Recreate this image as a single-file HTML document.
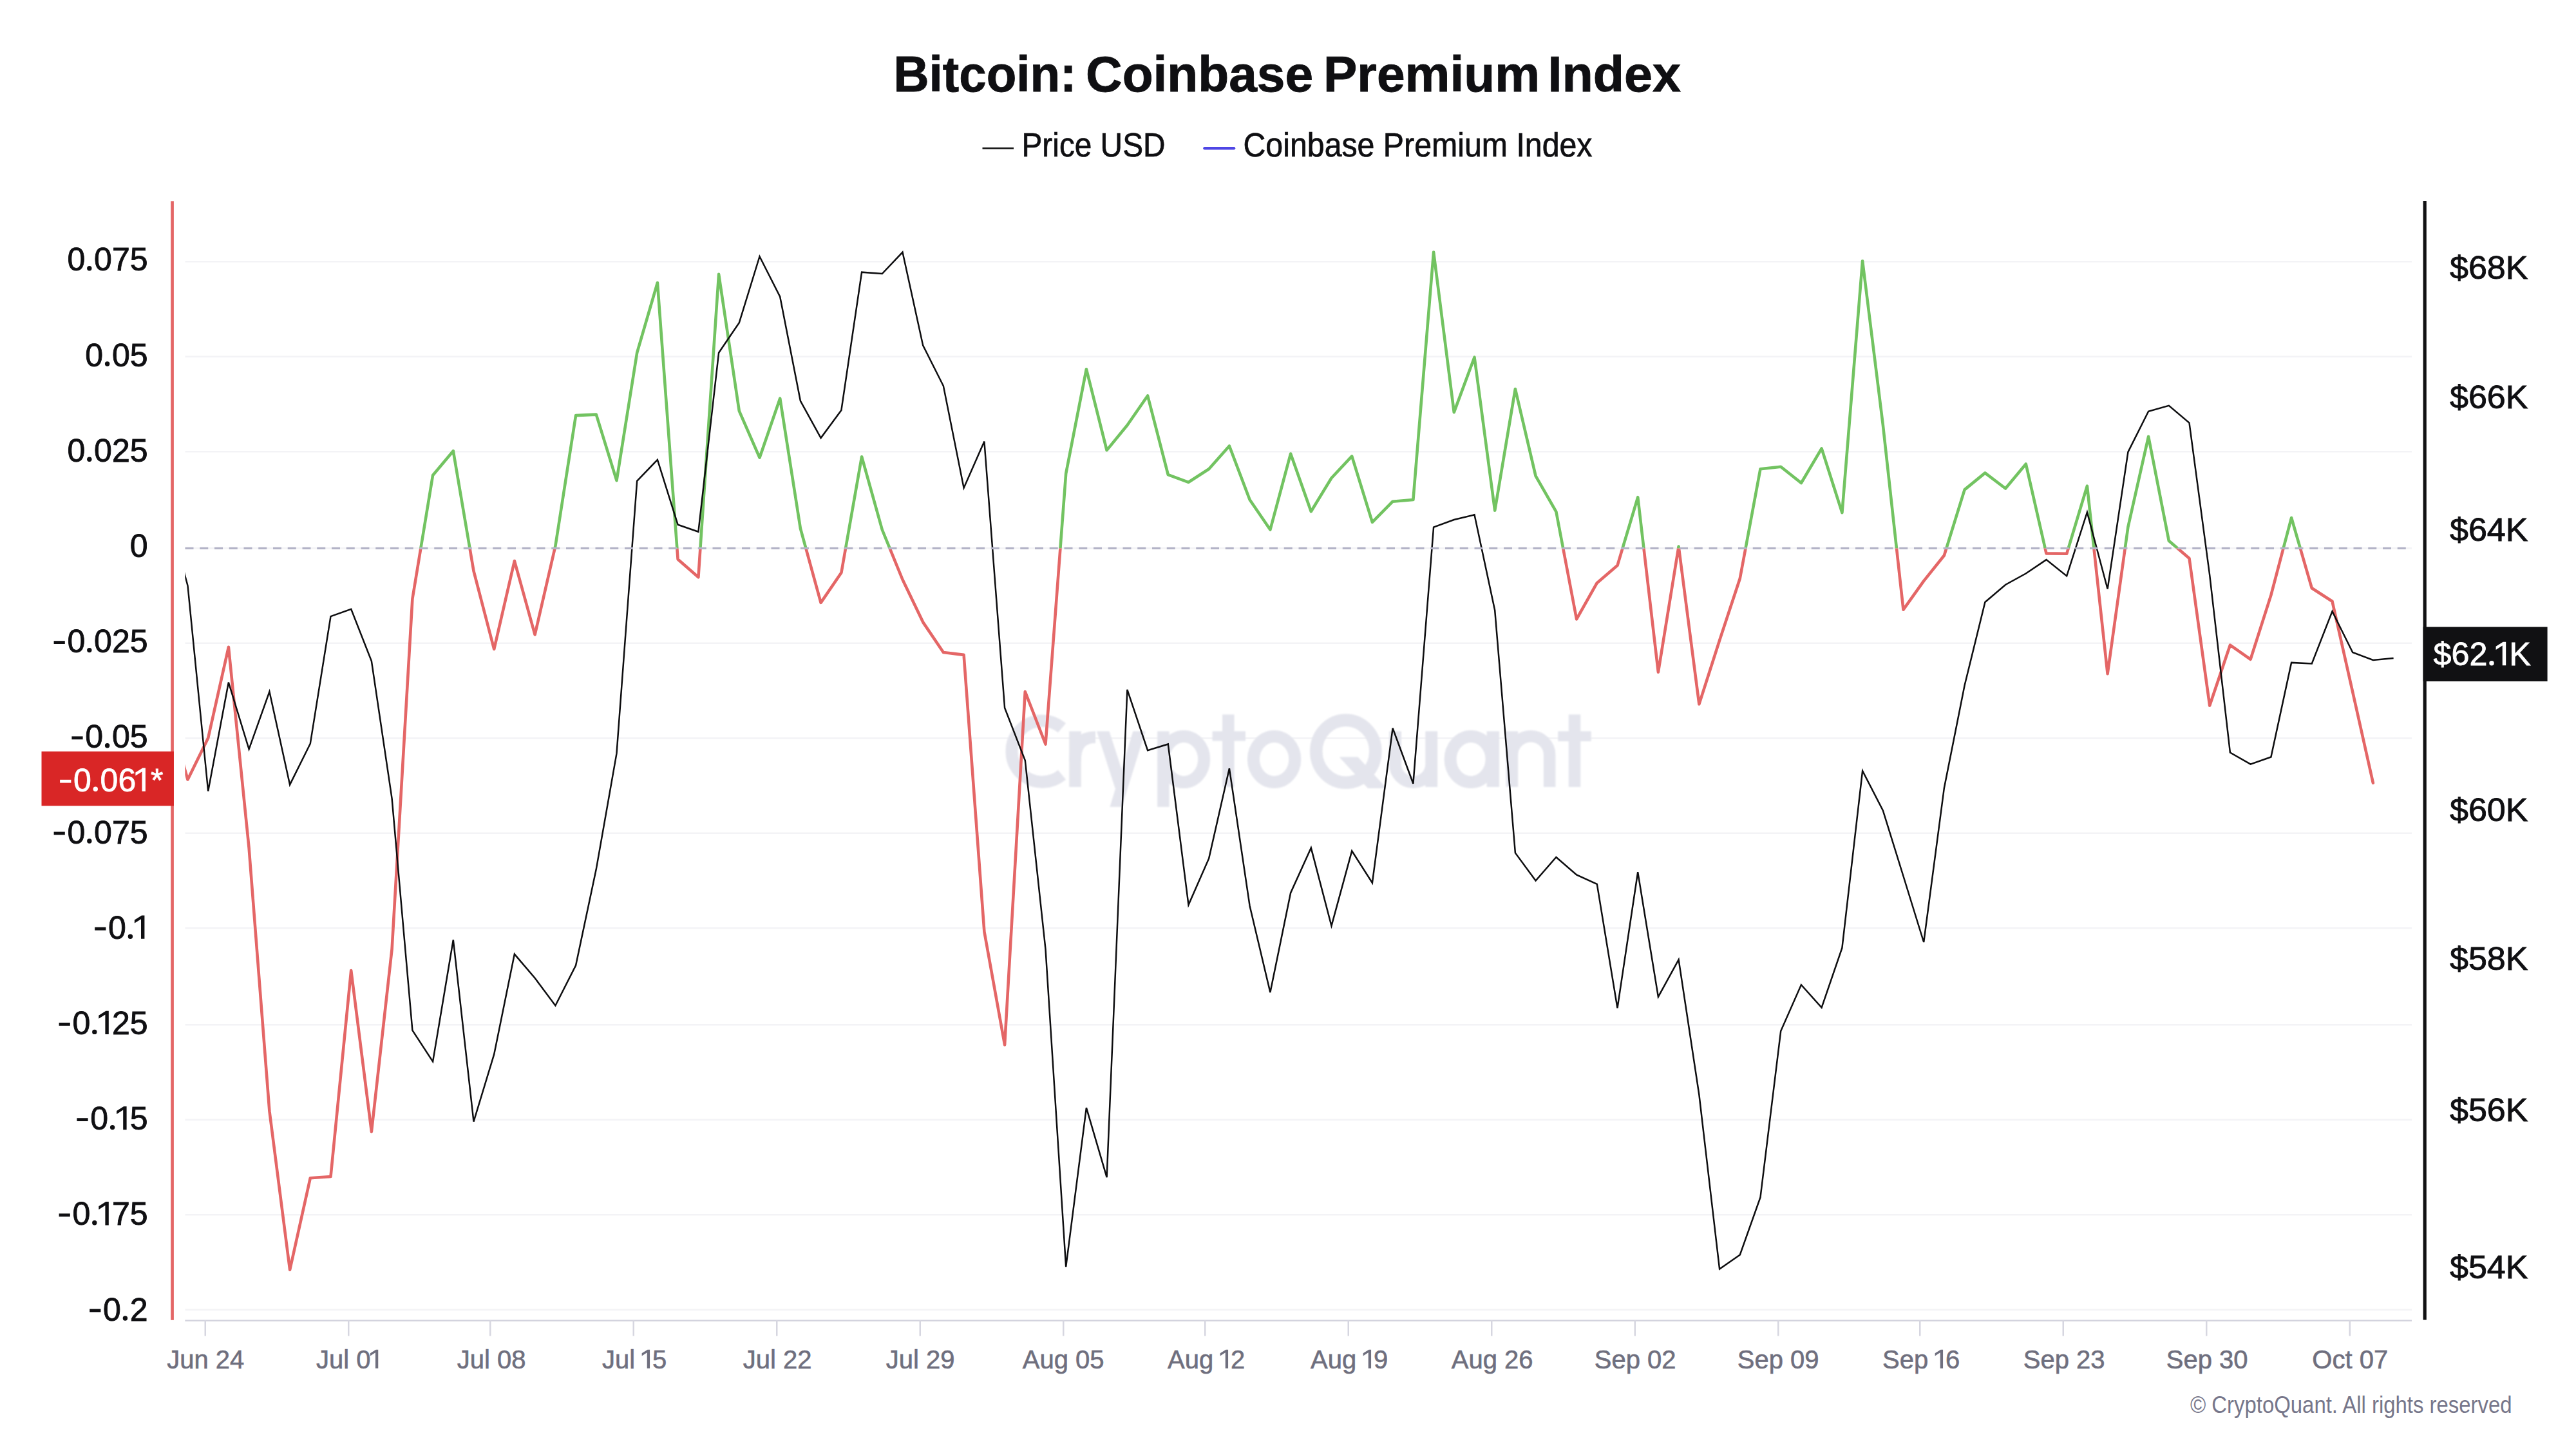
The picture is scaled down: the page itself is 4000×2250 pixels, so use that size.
<!DOCTYPE html>
<html><head><meta charset="utf-8"><title>Bitcoin: Coinbase Premium Index</title>
<style>
html,body{margin:0;padding:0;background:#fff;}
body{width:4000px;height:2250px;overflow:hidden;font-family:"Liberation Sans",sans-serif;}
svg{display:block;position:absolute;left:0;top:0;}
text{font-family:"Liberation Sans",sans-serif;}
</style></head><body>
<svg width="4000" height="2250" viewBox="0 0 4000 2250">
<defs>
<clipPath id="plot"><rect x="287.3" y="300" width="3470" height="1751"/></clipPath>
<clipPath id="up"><rect x="287.3" y="300" width="3470" height="551.4"/></clipPath>
<clipPath id="dn"><rect x="287.3" y="851.4" width="3470" height="1199.6"/></clipPath>
<filter id="bl" x="-5%" y="-20%" width="110%" height="140%"><feGaussianBlur stdDeviation="1.3"/></filter>
</defs>
<rect width="4000" height="2250" fill="#ffffff"/>
<g id="title" font-size="78" font-weight="bold" fill="#0f0f12" stroke="#0f0f12" stroke-width="0.9">
<text x="1387.5" y="141.5" textLength="284" lengthAdjust="spacingAndGlyphs">Bitcoin:</text>
<text x="1686" y="141.5" textLength="353" lengthAdjust="spacingAndGlyphs">Coinbase</text>
<text x="2055" y="141.5" textLength="336" lengthAdjust="spacingAndGlyphs">Premium</text>
<text x="2403.5" y="141.5" textLength="206.5" lengthAdjust="spacingAndGlyphs">Index</text>
</g>
<g id="legend" font-size="51" fill="#0f0f12" stroke="#0f0f12" stroke-width="0.7">
<line x1="1525.5" x2="1574" y1="230.3" y2="230.3" stroke="#111" stroke-width="2.4"/>
<text x="1586.5" y="242.8" textLength="223" lengthAdjust="spacingAndGlyphs">Price USD</text>
<line x1="1870.5" x2="1916" y1="230.3" y2="230.3" stroke="#4f46e5" stroke-width="4.5" stroke-linecap="round"/>
<text x="1930.5" y="242.8" textLength="542" lengthAdjust="spacingAndGlyphs">Coinbase Premium Index</text>
</g>
<g id="grid" stroke="#f3f3f6" stroke-width="2.6"><line x1="287.5" x2="3745" y1="406.25" y2="406.25"/><line x1="287.5" x2="3745" y1="553.75" y2="553.75"/><line x1="287.5" x2="3745" y1="701.25" y2="701.25"/><line x1="287.5" x2="3745" y1="998.75" y2="998.75"/><line x1="287.5" x2="3745" y1="1146.25" y2="1146.25"/><line x1="287.5" x2="3745" y1="1293.75" y2="1293.75"/><line x1="287.5" x2="3745" y1="1441.25" y2="1441.25"/><line x1="287.5" x2="3745" y1="1591.25" y2="1591.25"/><line x1="287.5" x2="3745" y1="1738.75" y2="1738.75"/><line x1="287.5" x2="3745" y1="1886.25" y2="1886.25"/><line x1="287.5" x2="3745" y1="2033.75" y2="2033.75"/><line x1="287.3" x2="3745" y1="851.4" y2="851.4"/></g>
<g id="wm" filter="url(#bl)" fill="none" stroke="#e4e5ed" stroke-width="19">
<path d="M1649,1130.3 A47.5,47.5 0 1 0 1649,1203.1"/>
<path d="M1669.5,1135.6 V1222" stroke-width="18.5"/><path d="M1669.5,1182 C1669.5,1156 1680,1144.8 1701,1144.8" stroke-width="18.5"/>
<polygon points="1759.3,1135.6 1778.7,1135.6 1741.9,1253 1723.4,1253" fill="#e4e5ed" stroke="none"/>
<polygon points="1703,1135.6 1722.5,1135.6 1751,1224 1731.6,1224" fill="#e4e5ed" stroke="none"/>
<path d="M1806.4,1135.6 V1253" stroke-width="18.5"/><ellipse cx="1838.2" cy="1179" rx="31.5" ry="35.5"/>
<path d="M1907.3,1109.4 V1222" stroke-width="18.5"/><path d="M1882.6,1143 H1934" stroke-width="15"/>
<ellipse cx="1978.6" cy="1179" rx="32.2" ry="35.5"/>
<ellipse cx="2089.8" cy="1166.7" rx="46" ry="48.5" stroke-width="19.5"/>
<polygon points="2079.6,1175.4 2108.7,1175.4 2153,1224 2124,1224" fill="#e4e5ed" stroke="none"/>
<path d="M2166.5,1135.6 V1186.4 A28.1,28.1 0 0 0 2222.75,1186.4 V1135.6 M2222.75,1135.6 V1222" stroke-width="18.8"/>
<ellipse cx="2284.1" cy="1179" rx="32" ry="35.5"/><path d="M2318.3,1135.6 V1222" stroke-width="19.4"/>
<path d="M2347.9,1135.6 V1222 M2347.9,1172.3 A29.1,29.1 0 0 1 2406.15,1172.3 V1222" stroke-width="18.5"/>
<path d="M2445,1109.4 V1222" stroke-width="18.5"/><path d="M2419.3,1143.3 H2470.7" stroke-width="15.4"/>
</g>
<line x1="287.3" x2="3745" y1="2050.6" y2="2050.6" stroke="#d2d2dd" stroke-width="2.4"/>
<g id="xticks" stroke="#d6d6e0" stroke-width="2.5"><line x1="318.75" x2="318.75" y1="2050" y2="2074.5"/><line x1="541.25" x2="541.25" y1="2050" y2="2074.5"/><line x1="761.25" x2="761.25" y1="2050" y2="2074.5"/><line x1="983.75" x2="983.75" y1="2050" y2="2074.5"/><line x1="1206.25" x2="1206.25" y1="2050" y2="2074.5"/><line x1="1428.75" x2="1428.75" y1="2050" y2="2074.5"/><line x1="1651.25" x2="1651.25" y1="2050" y2="2074.5"/><line x1="1871.25" x2="1871.25" y1="2050" y2="2074.5"/><line x1="2093.75" x2="2093.75" y1="2050" y2="2074.5"/><line x1="2316.25" x2="2316.25" y1="2050" y2="2074.5"/><line x1="2538.75" x2="2538.75" y1="2050" y2="2074.5"/><line x1="2761.25" x2="2761.25" y1="2050" y2="2074.5"/><line x1="2981.25" x2="2981.25" y1="2050" y2="2074.5"/><line x1="3203.75" x2="3203.75" y1="2050" y2="2074.5"/><line x1="3426.25" x2="3426.25" y1="2050" y2="2074.5"/><line x1="3648.75" x2="3648.75" y1="2050" y2="2074.5"/></g>
<g clip-path="url(#up)"><polyline points="259.8,1100.0 291.5,1210.5 323.2,1146.0 354.9,1004.8 386.6,1316.6 418.4,1725.3 450.1,1971.8 481.8,1829.3 513.5,1827.0 545.2,1507.1 576.9,1757.1 608.6,1473.8 640.4,930.0 672.1,737.9 703.8,700.3 735.5,886.6 767.2,1008.0 798.9,871.1 830.6,985.5 862.4,847.8 894.1,645.1 925.8,643.6 957.5,746.1 989.2,547.7 1020.9,439.0 1052.6,868.4 1084.4,896.3 1116.1,425.8 1147.8,638.2 1179.5,710.7 1211.2,618.7 1242.9,820.6 1274.6,935.9 1306.4,889.3 1338.1,709.2 1369.8,822.5 1401.5,900.0 1433.2,966.1 1464.9,1013.0 1496.6,1016.9 1528.4,1446.7 1560.1,1622.4 1591.8,1074.0 1623.5,1155.5 1655.2,735.2 1686.9,573.3 1718.6,699.1 1750.4,660.3 1782.1,614.5 1813.8,737.1 1845.5,748.8 1877.2,728.2 1908.9,692.5 1940.6,776.0 1972.4,822.5 2004.1,704.5 2035.8,794.2 2067.5,742.2 2099.2,708.4 2130.9,810.9 2162.6,778.7 2194.4,776.0 2226.1,391.6 2257.8,640.1 2289.5,554.7 2321.2,792.7 2352.9,604.0 2384.6,739.1 2416.4,794.6 2448.1,961.4 2479.8,905.2 2511.5,878.1 2543.2,772.1 2574.9,1043.7 2606.6,848.6 2638.4,1093.4 2670.1,994.4 2701.8,898.2 2733.5,728.2 2765.2,724.7 2796.9,750.0 2828.6,696.4 2860.4,796.1 2892.1,405.2 2923.8,659.5 2955.5,946.7 2987.2,902.1 3018.9,862.5 3050.6,760.4 3082.4,734.4 3114.1,758.5 3145.8,720.5 3177.5,859.4 3209.2,859.8 3240.9,754.6 3272.6,1046.3 3304.4,818.3 3336.1,677.9 3367.8,839.7 3399.5,867.0 3431.2,1095.6 3462.9,1001.7 3494.6,1023.8 3526.4,924.1 3558.1,804.0 3589.8,913.3 3621.5,933.8 3653.2,1074.6 3684.9,1215.8" fill="none" stroke="#72c361" stroke-width="4.6" stroke-linejoin="round" stroke-linecap="round"/></g>
<g clip-path="url(#dn)"><polyline points="259.8,1100.0 291.5,1210.5 323.2,1146.0 354.9,1004.8 386.6,1316.6 418.4,1725.3 450.1,1971.8 481.8,1829.3 513.5,1827.0 545.2,1507.1 576.9,1757.1 608.6,1473.8 640.4,930.0 672.1,737.9 703.8,700.3 735.5,886.6 767.2,1008.0 798.9,871.1 830.6,985.5 862.4,847.8 894.1,645.1 925.8,643.6 957.5,746.1 989.2,547.7 1020.9,439.0 1052.6,868.4 1084.4,896.3 1116.1,425.8 1147.8,638.2 1179.5,710.7 1211.2,618.7 1242.9,820.6 1274.6,935.9 1306.4,889.3 1338.1,709.2 1369.8,822.5 1401.5,900.0 1433.2,966.1 1464.9,1013.0 1496.6,1016.9 1528.4,1446.7 1560.1,1622.4 1591.8,1074.0 1623.5,1155.5 1655.2,735.2 1686.9,573.3 1718.6,699.1 1750.4,660.3 1782.1,614.5 1813.8,737.1 1845.5,748.8 1877.2,728.2 1908.9,692.5 1940.6,776.0 1972.4,822.5 2004.1,704.5 2035.8,794.2 2067.5,742.2 2099.2,708.4 2130.9,810.9 2162.6,778.7 2194.4,776.0 2226.1,391.6 2257.8,640.1 2289.5,554.7 2321.2,792.7 2352.9,604.0 2384.6,739.1 2416.4,794.6 2448.1,961.4 2479.8,905.2 2511.5,878.1 2543.2,772.1 2574.9,1043.7 2606.6,848.6 2638.4,1093.4 2670.1,994.4 2701.8,898.2 2733.5,728.2 2765.2,724.7 2796.9,750.0 2828.6,696.4 2860.4,796.1 2892.1,405.2 2923.8,659.5 2955.5,946.7 2987.2,902.1 3018.9,862.5 3050.6,760.4 3082.4,734.4 3114.1,758.5 3145.8,720.5 3177.5,859.4 3209.2,859.8 3240.9,754.6 3272.6,1046.3 3304.4,818.3 3336.1,677.9 3367.8,839.7 3399.5,867.0 3431.2,1095.6 3462.9,1001.7 3494.6,1023.8 3526.4,924.1 3558.1,804.0 3589.8,913.3 3621.5,933.8 3653.2,1074.6 3684.9,1215.8" fill="none" stroke="#e46666" stroke-width="4.6" stroke-linejoin="round" stroke-linecap="round"/></g>
<g clip-path="url(#plot)"><polyline points="259.8,792.0 291.5,909.5 323.2,1228.5 354.9,1059.6 386.6,1163.3 418.4,1074.0 450.1,1218.4 481.8,1154.7 513.5,957.1 545.2,945.9 576.9,1026.6 608.6,1240.1 640.4,1599.9 672.1,1648.4 703.8,1459.5 735.5,1741.6 767.2,1637.2 798.9,1481.6 830.6,1518.8 862.4,1561.5 894.1,1499.1 925.8,1349.6 957.5,1169.9 989.2,746.8 1020.9,713.9 1052.6,814.8 1084.4,825.7 1116.1,547.7 1147.8,501.1 1179.5,398.2 1211.2,460.7 1242.9,622.6 1274.6,680.1 1306.4,637.0 1338.1,422.7 1369.8,425.0 1401.5,391.6 1433.2,536.4 1464.9,599.3 1496.6,757.7 1528.4,685.5 1560.1,1099.2 1591.8,1180.7 1623.5,1473.8 1655.2,1967.1 1686.9,1720.2 1718.6,1828.1 1750.4,1070.9 1782.1,1165.2 1813.8,1155.5 1845.5,1405.1 1877.2,1332.9 1908.9,1193.2 1940.6,1406.7 1972.4,1540.9 2004.1,1386.5 2035.8,1316.6 2067.5,1437.7 2099.2,1321.3 2130.9,1371.0 2162.6,1130.7 2194.4,1216.8 2226.1,818.7 2257.8,807.0 2289.5,799.3 2321.2,947.8 2352.9,1324.4 2384.6,1367.5 2416.4,1331.0 2448.1,1358.5 2479.8,1372.9 2511.5,1565.3 2543.2,1354.3 2574.9,1547.9 2606.6,1490.1 2638.4,1700.0 2670.1,1970.6 2701.8,1948.5 2733.5,1859.2 2765.2,1601.0 2796.9,1529.2 2828.6,1564.6 2860.4,1471.9 2892.1,1197.0 2923.8,1258.4 2955.5,1360.5 2987.2,1463.0 3018.9,1223.4 3050.6,1064.3 3082.4,935.0 3114.1,908.0 3145.8,890.5 3177.5,869.1 3209.2,894.4 3240.9,795.4 3272.6,914.5 3304.4,702.0 3336.1,638.7 3367.8,629.8 3399.5,656.6 3431.2,893.1 3462.9,1168.5 3494.6,1186.7 3526.4,1175.5 3558.1,1028.9 3589.8,1030.4 3621.5,949.3 3653.2,1013.0 3684.9,1025.0 3716.6,1021.9" fill="none" stroke="#0d0d0f" stroke-width="2.5" stroke-linejoin="miter"/></g>
<line x1="287.5" x2="3745" y1="851.4" y2="851.4" stroke="#b3b3c7" stroke-width="3.2" stroke-dasharray="13 9.75"/>
<rect x="265.2" y="312.3" width="4.7" height="1737.5" fill="#e46666"/>
<rect x="3762.6" y="312" width="5.2" height="1737.5" fill="#111113"/>
<g id="ll" font-size="50" fill="#0f0f12" stroke="#0f0f12" stroke-width="0.9"><text x="104.4" y="420.4">0</text><circle cx="138.8" cy="416.8" r="3.70" stroke="none"/><text x="146.1" y="420.4">075</text><text x="132.2" y="568.6">0</text><circle cx="166.6" cy="565.0" r="3.70" stroke="none"/><text x="173.9" y="568.6">05</text><text x="104.4" y="716.8">0</text><circle cx="138.8" cy="713.2" r="3.70" stroke="none"/><text x="146.1" y="716.8">025</text><text x="201.7" y="865.0">0</text><text x="104.4" y="1013.2">0</text><circle cx="138.8" cy="1009.6" r="3.70" stroke="none"/><text x="146.1" y="1013.2">025</text><rect x="83.6" y="995.2" width="17.2" height="4.8" stroke="none"/><text x="132.2" y="1161.4">0</text><circle cx="166.6" cy="1157.8" r="3.70" stroke="none"/><text x="173.9" y="1161.4">05</text><rect x="111.4" y="1143.4" width="17.2" height="4.8" stroke="none"/><text x="104.4" y="1309.6">0</text><circle cx="138.8" cy="1306.0" r="3.70" stroke="none"/><text x="146.1" y="1309.6">075</text><rect x="83.6" y="1291.6" width="17.2" height="4.8" stroke="none"/><text x="168.0" y="1457.8">0</text><circle cx="202.4" cy="1454.2" r="3.70" stroke="none"/><path transform="translate(209.7,1457.8) scale(1.000)" stroke="none" d="M9.3,0 V-30.6 L-0.8,-24.2 V-29.3 L10.3,-36.3 H14.7 V0 Z"/><rect x="147.2" y="1439.8" width="17.2" height="4.8" stroke="none"/><text x="112.4" y="1606.0">0</text><circle cx="146.8" cy="1602.4" r="3.70" stroke="none"/><path transform="translate(154.1,1606.0) scale(1.000)" stroke="none" d="M9.3,0 V-30.6 L-0.8,-24.2 V-29.3 L10.3,-36.3 H14.7 V0 Z"/><text x="173.9" y="1606.0">25</text><rect x="91.6" y="1588.0" width="17.2" height="4.8" stroke="none"/><text x="140.2" y="1754.2">0</text><circle cx="174.6" cy="1750.6" r="3.70" stroke="none"/><path transform="translate(181.9,1754.2) scale(1.000)" stroke="none" d="M9.3,0 V-30.6 L-0.8,-24.2 V-29.3 L10.3,-36.3 H14.7 V0 Z"/><text x="201.7" y="1754.2">5</text><rect x="119.4" y="1736.2" width="17.2" height="4.8" stroke="none"/><text x="112.4" y="1902.4">0</text><circle cx="146.8" cy="1898.8" r="3.70" stroke="none"/><path transform="translate(154.1,1902.4) scale(1.000)" stroke="none" d="M9.3,0 V-30.6 L-0.8,-24.2 V-29.3 L10.3,-36.3 H14.7 V0 Z"/><text x="173.9" y="1902.4">75</text><rect x="91.6" y="1884.4" width="17.2" height="4.8" stroke="none"/><text x="160.0" y="2050.6">0</text><circle cx="194.4" cy="2047.0" r="3.70" stroke="none"/><text x="201.7" y="2050.6">2</text><rect x="139.2" y="2032.6" width="17.2" height="4.8" stroke="none"/></g>
<g id="rl" font-size="50.5" fill="#0f0f12" stroke="#0f0f12" stroke-width="0.9"><text x="3804" y="433.4" textLength="121.5" lengthAdjust="spacingAndGlyphs">$68K</text><text x="3804" y="633.7" textLength="121.5" lengthAdjust="spacingAndGlyphs">$66K</text><text x="3804" y="839.6" textLength="121.5" lengthAdjust="spacingAndGlyphs">$64K</text><text x="3804" y="1274.8" textLength="121.5" lengthAdjust="spacingAndGlyphs">$60K</text><text x="3804" y="1505.7" textLength="121.5" lengthAdjust="spacingAndGlyphs">$58K</text><text x="3804" y="1740.6" textLength="121.5" lengthAdjust="spacingAndGlyphs">$56K</text><text x="3804" y="1985.2" textLength="121.5" lengthAdjust="spacingAndGlyphs">$54K</text></g>
<g id="xl" font-size="40" fill="#6f6f7e" stroke="#6f6f7e" stroke-width="0.6"><text x="259.2" y="2124.8">Jun 24</text><text x="491.0" y="2124.8">Jul 0</text><path transform="translate(575.5,2124.8) scale(0.800)" stroke="none" d="M9.3,0 V-30.6 L-0.8,-24.2 V-29.3 L10.3,-36.3 H14.7 V0 Z"/><text x="709.8" y="2124.8">Jul 08</text><text x="935.0" y="2124.8">Jul </text><path transform="translate(997.3,2124.8) scale(0.800)" stroke="none" d="M9.3,0 V-30.6 L-0.8,-24.2 V-29.3 L10.3,-36.3 H14.7 V0 Z"/><text x="1013.1" y="2124.8">5</text><text x="1153.8" y="2124.8">Jul 22</text><text x="1375.8" y="2124.8">Jul 29</text><text x="1587.8" y="2124.8">Aug 05</text><text x="1813.0" y="2124.8">Aug </text><path transform="translate(1895.3,2124.8) scale(0.800)" stroke="none" d="M9.3,0 V-30.6 L-0.8,-24.2 V-29.3 L10.3,-36.3 H14.7 V0 Z"/><text x="1911.1" y="2124.8">2</text><text x="2035.0" y="2124.8">Aug </text><path transform="translate(2117.3,2124.8) scale(0.800)" stroke="none" d="M9.3,0 V-30.6 L-0.8,-24.2 V-29.3 L10.3,-36.3 H14.7 V0 Z"/><text x="2133.1" y="2124.8">9</text><text x="2253.8" y="2124.8">Aug 26</text><text x="2475.8" y="2124.8">Sep 02</text><text x="2697.8" y="2124.8">Sep 09</text><text x="2923.0" y="2124.8">Sep </text><path transform="translate(3005.3,2124.8) scale(0.800)" stroke="none" d="M9.3,0 V-30.6 L-0.8,-24.2 V-29.3 L10.3,-36.3 H14.7 V0 Z"/><text x="3021.1" y="2124.8">6</text><text x="3141.8" y="2124.8">Sep 23</text><text x="3363.8" y="2124.8">Sep 30</text><text x="3590.3" y="2124.8">Oct 07</text></g>
<rect x="64.5" y="1166.8" width="205.4" height="84.5" fill="#d92626"/>
<g fill="#ffffff" stroke="#ffffff" stroke-width="0.8" font-size="50"><text x="113.9" y="1228.8">0</text><circle cx="148.3" cy="1225.2" r="3.70" stroke="none"/><text x="155.6" y="1228.8">06</text><path transform="translate(211.2,1228.8) scale(1.000)" stroke="none" d="M9.3,0 V-30.6 L-0.8,-24.2 V-29.3 L10.3,-36.3 H14.7 V0 Z"/><rect x="93.1" y="1210.8" width="17.3" height="4.8" stroke="none"/><text x="234" y="1228.8">*</text></g>
<rect x="3762.6" y="973.5" width="193" height="84.5" fill="#111113"/>
<g fill="#ffffff" stroke="#ffffff" stroke-width="0.8" font-size="50.3"><text x="3778.5" y="1033.3">$62</text><circle cx="3869.0" cy="1029.7" r="3.72" stroke="none"/><path transform="translate(3876.4,1033.3) scale(1.006)" stroke="none" d="M9.3,0 V-30.6 L-0.8,-24.2 V-29.3 L10.3,-36.3 H14.7 V0 Z"/><text x="3896.3" y="1033.3">K</text></g>
<text x="3401" y="2193.7" font-size="36" fill="#76768a" textLength="499.5" lengthAdjust="spacingAndGlyphs">© CryptoQuant. All rights reserved</text>
</svg>
</body></html>
